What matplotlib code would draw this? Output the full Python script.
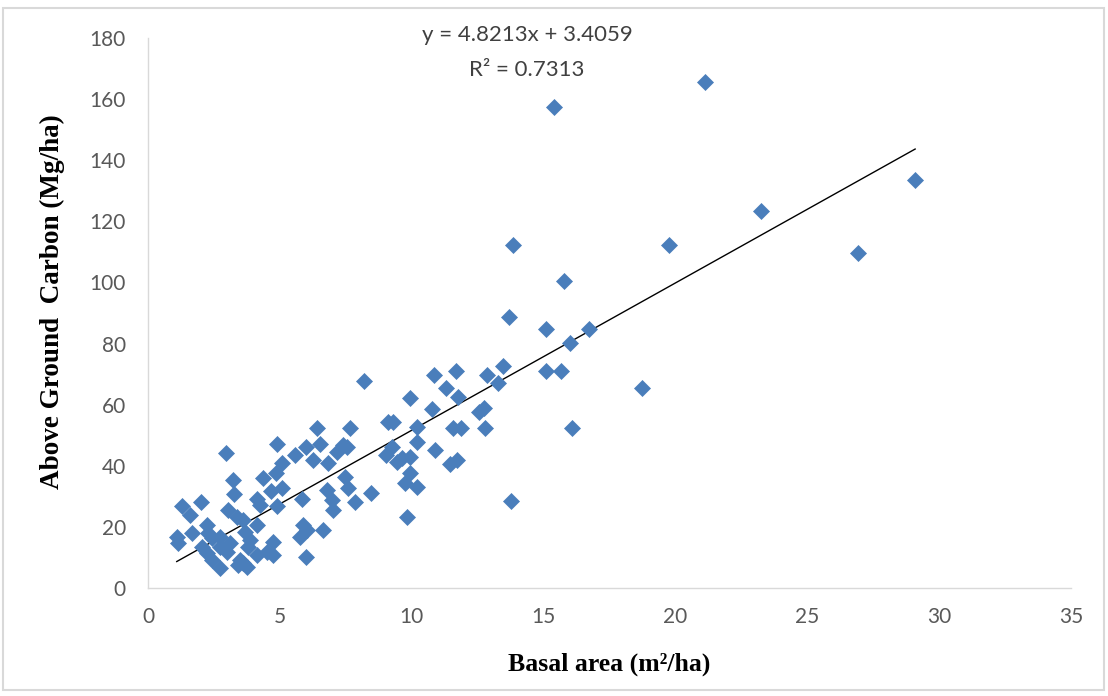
import matplotlib
matplotlib.use("Agg")
import matplotlib.pyplot as plt
from matplotlib.patches import Rectangle
import numpy as np

# Basal area (m2/ha)
basal_area = [1.09, 1.13, 1.28, 1.59, 1.66, 2.01, 2.04, 2.23, 2.23, 2.29,
              2.42, 2.42, 2.73, 2.73, 2.73, 2.98, 2.96, 3.05, 3.11, 3.21,
              3.27, 3.36, 3.61, 3.42, 3.49, 3.61, 3.68, 3.74, 3.80, 3.87,
              4.12, 4.12, 4.12, 4.25, 4.37, 4.50, 4.65, 4.75, 4.75, 4.85,
              4.90, 4.90, 5.07, 5.07, 5.57, 5.76, 5.89, 6.02, 5.83, 5.98,
              6.00, 6.27, 6.40, 6.52, 6.65, 6.78, 6.84, 6.99, 7.03, 7.16,
              7.41, 7.54, 7.47, 7.60, 7.66, 7.85, 8.20, 8.44, 9.03, 9.11,
              9.30, 9.24, 9.43, 9.62, 9.75, 9.81, 9.94, 9.94, 9.94, 10.21,
              10.21, 10.21, 10.76, 10.86, 10.88, 11.30, 11.45, 11.71, 11.58, 11.87,
              11.68, 11.74, 12.56, 12.75, 12.84, 12.78, 13.28, 13.47, 13.68, 13.75,
              13.83, 15.10, 15.10, 15.40, 15.67, 15.78, 15.99, 16.08, 16.73, 18.74,
              19.76, 21.11, 23.25, 26.94, 29.09]

# Above ground carbon (Mg/ha)
carbon = [16.6, 14.6, 26.8, 23.9, 18.1, 28.0, 13.5, 20.6, 11.4, 17.9,
          16.3, 9.2, 16.8, 13.5, 6.4, 11.9, 44.1, 25.5, 14.6, 35.3,
          30.8, 23.3, 22.3, 7.5, 9.2, 8.1, 18.4, 7.0, 13.5, 15.7,
          29.0, 20.6, 10.8, 27.2, 35.9, 11.9, 31.8, 15.2, 10.8, 37.5,
          47.1, 26.8, 40.8, 32.6, 43.5, 16.8, 20.6, 19.0, 29.0, 46.2,
          10.0, 41.9, 52.3, 47.1, 19.0, 32.1, 40.8, 28.8, 25.5, 44.6,
          46.8, 46.2, 36.4, 32.6, 52.3, 28.2, 67.7, 31.0, 43.5, 54.4,
          54.4, 46.2, 41.3, 42.4, 34.3, 23.3, 62.1, 43.0, 37.5, 52.6,
          47.9, 33.1, 58.5, 69.7, 45.2, 65.3, 40.6, 41.9, 52.3, 52.3,
          71.0, 62.4, 57.7, 58.8, 69.7, 52.3, 67.0, 72.7, 88.8, 28.5,
          112.2, 84.9, 70.9, 157.3, 70.9, 100.6, 80.3, 52.3, 84.9, 65.3,
          112.2, 165.5, 123.4, 109.7, 133.5]

# Excel linear trendline (from the chart label)
trend_slope = 4.8213
trend_intercept = 3.4059
r_squared = 0.7313

x_ticks = [0, 5, 10, 15, 20, 25, 30, 35]
y_ticks = [0, 20, 40, 60, 80, 100, 120, 140, 160, 180]

fig = plt.figure(figsize=(11.08, 6.96), dpi=100)
ax = fig.add_axes([148/1108, 1-588/696, (1071-148)/1108, (588-38)/696])

ax.plot(basal_area, carbon, linestyle="none", marker="D", markersize=8.5,
        color="#4a7ebb", markeredgewidth=0.5, markeredgecolor="#4a7ebb", zorder=3)

xs = np.array([min(basal_area), max(basal_area)])
ax.plot(xs, trend_slope * xs + trend_intercept, color="black", linewidth=1.0, zorder=2)

ax.set_xlim(0, 35)
ax.set_ylim(0, 180)
ax.set_xticks(x_ticks)
ax.set_yticks(y_ticks)
ax.tick_params(axis="both", length=0, labelsize=15, labelcolor="#595959")
for lab in ax.get_xticklabels() + ax.get_yticklabels():
    lab.set_family("Lato")
ax.tick_params(axis="x", pad=14)
ax.tick_params(axis="y", pad=16)

for s in ["top", "right"]:
    ax.spines[s].set_visible(False)
for s in ["left", "bottom"]:
    ax.spines[s].set_color("#d9d9d9")
    ax.spines[s].set_linewidth(1.0)

ax.set_xlabel("Basal area (m²/ha)", family="Liberation Serif",
              fontweight="bold", fontsize=18.5, labelpad=18)
ax.set_ylabel("Above Ground  Carbon (Mg/ha)", family="Liberation Serif",
              fontweight="bold", fontsize=19.5)
ax.yaxis.set_label_coords(-0.09, 0.52)

ax.text(14.37, 181, f"y = {trend_slope}x + {trend_intercept}", ha="center", va="center",
        fontsize=16, color="#404040", family="Lato", clip_on=False)
ax.text(14.37, 169.5, f"R² = {r_squared}", ha="center", va="center",
        fontsize=16, color="#404040", family="Lato", clip_on=False)

fig.patches.append(Rectangle((3/1108, 6/696), 1-7/1108, 1-14/696, transform=fig.transFigure,
                             fill=False, edgecolor="#d9d9d9", linewidth=1.5))

fig.savefig("out.png", dpi=100)
